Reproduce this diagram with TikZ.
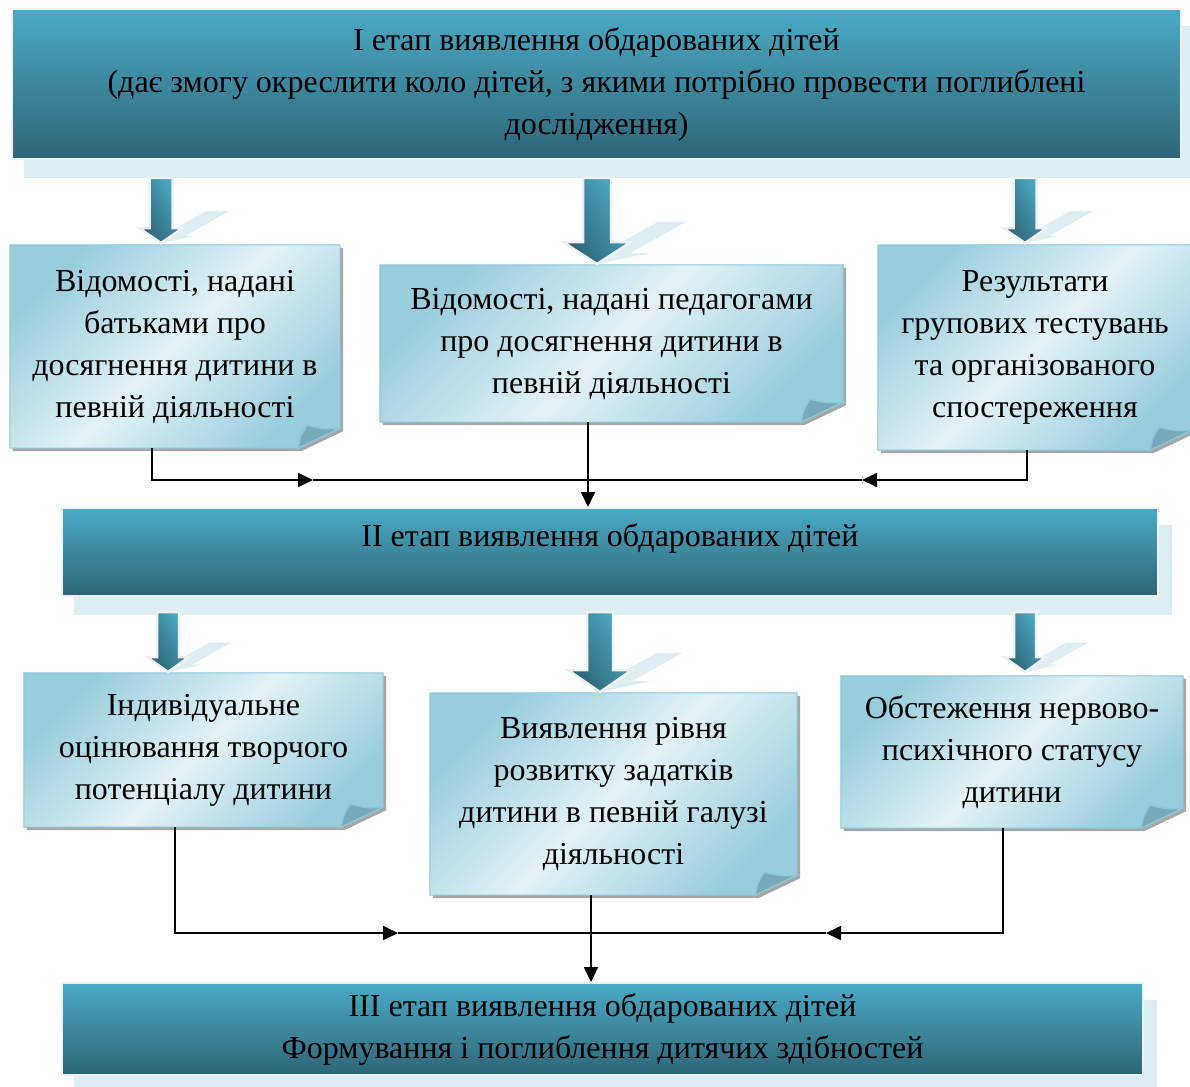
\documentclass[tikz,border=0pt]{standalone}
\usepackage{fontspec}
\setmainfont{Liberation Serif}
\usetikzlibrary{arrows.meta,positioning,backgrounds,calc}

\definecolor{bantop}{HTML}{4BAAC6}
\definecolor{banbot}{HTML}{2E6577}
\definecolor{banshadow}{HTML}{DCEEF4}
\definecolor{notelight}{HTML}{E4F2F6}
\definecolor{notedark}{HTML}{98CEDC}
\definecolor{noteedge}{HTML}{8CC7D6}
\definecolor{notefold}{HTML}{76AABA}
\definecolor{arrowtop}{HTML}{4FADC8}
\definecolor{arrowbot}{HTML}{2B6274}

\tikzset{
  txt/.style    = {font=\fontsize{32}{42}\selectfont, align=center, text=black},
  banner/.style = {txt, rectangle, draw=black!6, line width=2pt,
                   top color=bantop, bottom color=banbot, inner sep=0pt},
  note/.style   = {txt, rectangle, inner sep=0pt},
  link/.style   = {draw=black, line width=1.8pt},
  >={Triangle[length=15pt,width=14pt]}
}

% block arrow: centre x, top, tip, shaft width, head width, head length
\newcommand{\bigdown}[6]{%
  \pgfmathsetmacro\len{#3-#2}%
  \pgfmathsetmacro\neck{#3-#6}%
  \fill[banshadow]
    ({#1-#4/2+0.87*\len},{#3-0.49*\len}) -- ({#1+#4/2+0.87*\len},{#3-0.49*\len})
    -- ({#1+#4/2+0.87*#6},{#3-0.49*#6}) -- ({#1+#5/2+0.87*#6},{#3-0.49*#6})
    -- (#1,#3) -- ({#1-#5/2+0.87*#6},{#3-0.49*#6})
    -- ({#1-#4/2+0.87*#6},{#3-0.49*#6}) -- cycle;
  \path[draw=black!6, line width=2.5pt, left color=arrowtop, right color=arrowbot,
        shading angle=-60]
    ({#1-#4/2},#2) -- ({#1+#4/2},#2) -- ({#1+#4/2},\neck) -- ({#1+#5/2},\neck)
    -- (#1,#3) -- ({#1-#5/2},\neck) -- ({#1-#4/2},\neck) -- cycle;
}

\begin{document}
\begin{tikzpicture}[x=1pt,y=-1pt]
\useasboundingbox (0,0) rectangle (1190,1086);

% etapy
\node[banner, minimum width=1169pt, minimum height=150pt] (b1) at (596.5,84)
  {I етап виявлення обдарованих дітей\\
   (дає змогу окреслити коло дітей, з якими потрібно провести поглиблені\\
   дослідження)};
\node[banner, minimum width=1096pt, minimum height=88pt,
      text height=22pt, text depth=34pt] (b2) at (610,552)
  {II етап виявлення обдарованих дітей};
\node[banner, minimum width=1081pt, minimum height=92pt] (b3) at (602.5,1029)
  {III етап виявлення обдарованих дітей\\
   Формування і поглиблення дитячих здібностей};

% dzherela vidomostej
\node[note, minimum width=330pt, minimum height=203pt] (n1) at (175,346.5)
  {Відомості, надані\\ батьками про\\ досягнення дитини в\\ певній діяльності};
\node[note, minimum width=463pt, minimum height=157pt] (n2) at (611.5,343.5)
  {Відомості, надані педагогами\\ про досягнення дитини в\\ певній діяльності};
\node[note, minimum width=314pt, minimum height=205pt] (n3) at (1035,347.5)
  {Результати\\ групових тестувань\\ та організованого\\ спостереження};

\node[note, minimum width=359pt, minimum height=154pt] (n4) at (203.5,750)
  {Індивідуальне\\ оцінювання творчого\\ потенціалу дитини};
\node[note, minimum width=367pt, minimum height=202pt] (n5) at (613.5,794)
  {Виявлення рівня\\ розвитку задатків\\ дитини в певній галузі\\ діяльності};
\node[note, minimum width=342pt, minimum height=152pt] (n6) at (1012,752)
  {Обстеження нервово-\\ психічного статусу\\ дитини};

% tini, papir i zagyny
\begin{scope}[on background layer]
\foreach \b in {1,2,3}
  \fill[banshadow] ([shift={(13,18)}]b\b.north west) rectangle ([shift={(13,18)}]b\b.south east);

\foreach \i in {1,...,6} {
  \fill[black!35] ([shift={(3,3)}]n\i.north west) -- ([shift={(3,3)}]n\i.north east)
    -- ([shift={(3,-17)}]n\i.south east) -- ([shift={(-39,3)}]n\i.south east)
    -- ([shift={(3,3)}]n\i.south west) -- cycle;
  \path[draw=noteedge, line width=1pt, left color=notedark, right color=notedark,
        middle color=notelight, shading angle=45]
    (n\i.north west) -- (n\i.north east) -- ([yshift=20pt]n\i.south east)
    -- ([xshift=-42pt]n\i.south east) -- (n\i.south west) -- cycle;
  \path[draw=noteedge, line width=1.5pt, fill=notefold]
    ([xshift=-42pt]n\i.south east)
    .. controls ([shift={(-40,-12)}]n\i.south east) .. ([shift={(-33,-23)}]n\i.south east)
    .. controls ([shift={(-16,-19)}]n\i.south east) .. ([yshift=20pt]n\i.south east)
    -- cycle;
}
\end{scope}

% strilky
\bigdown{161}{178}{243}{23}{44}{15}
\bigdown{597}{178}{264}{28}{68}{22}
\bigdown{1025}{178}{243}{23}{44}{15}
\bigdown{168}{612}{672}{22}{42}{15}
\bigdown{600}{612}{692}{26}{64}{22}
\bigdown{1025}{612}{672}{22}{42}{15}

% zvjazky
\coordinate (m1) at (313,480);
\coordinate (m2) at (862,480);
\coordinate (m3) at (398,933);
\coordinate (m4) at (826,933);

\draw[link,->] ([xshift=-23pt]n1.south) |- (m1);
\draw[link,->] ([xshift=-8pt]n3.south) |- (m2);
\draw[link] (m1) -- (m2);
\draw[link,->] ([xshift=-23.5pt]n2.south) -- ([xshift=-23.5pt]n2.south |- b2.north);

\draw[link,->] ([xshift=-28.5pt]n4.south) |- (m3);
\draw[link,->] ([xshift=-9pt]n6.south) |- (m4);
\draw[link] (m3) -- (m4);
\draw[link,->] ([xshift=-22.5pt]n5.south) -- ([xshift=-22.5pt]n5.south |- b3.north);
\end{tikzpicture}
\end{document}
